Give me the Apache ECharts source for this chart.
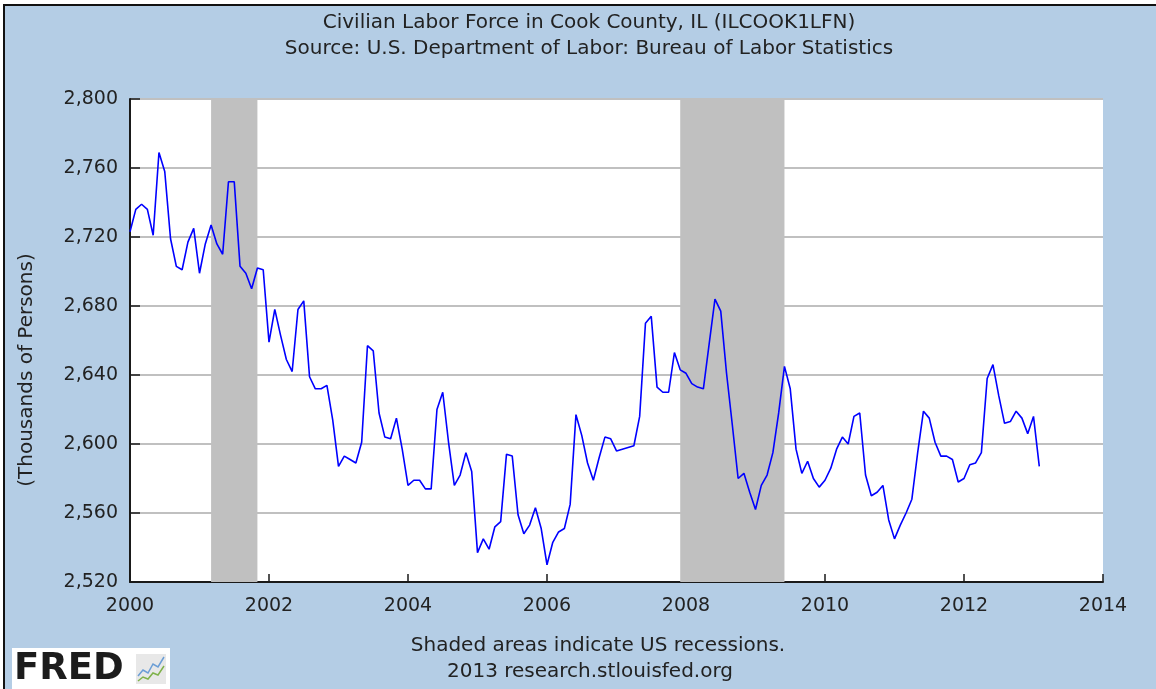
<!DOCTYPE html>
<html>
<head>
<meta charset="utf-8">
<script src="https://cdn.jsdelivr.net/npm/echarts@6/dist/echarts.min.js"></script>
<style>
html,body{margin:0;padding:0;background:#ffffff;}
#chart{width:1156px;height:689px;}
</style>
</head>
<body>
<div id="chart"></div>
<script>
// Monthly values, Jan 2000 .. Feb 2013 (thousands of persons)
var startYear = 2000;
var laborForce = [
  2723, 2736, 2739, 2736, 2721, 2769, 2758, 2719, 2703, 2701, 2717, 2725,
  2699, 2716, 2727, 2716, 2710, 2752, 2752, 2703, 2699, 2690, 2702, 2701,
  2659, 2678, 2663, 2649, 2642, 2678, 2683, 2639, 2632, 2632, 2634, 2614,
  2587, 2593, 2591, 2589, 2601, 2657, 2654, 2618, 2604, 2603, 2615, 2597,
  2576, 2579, 2579, 2574, 2574, 2620, 2630, 2601, 2576, 2582, 2595, 2584,
  2537, 2545, 2539, 2552, 2555, 2594, 2593, 2559, 2548, 2553, 2563, 2551,
  2530, 2543, 2549, 2551, 2565, 2617, 2605, 2589, 2579, 2592, 2604, 2603,
  2596, 2597, 2598, 2599, 2616, 2670, 2674, 2633, 2630, 2630, 2653, 2643,
  2641, 2635, 2633, 2632, 2658, 2684, 2677, 2641, 2611, 2580, 2583, 2572,
  2562, 2576, 2582, 2595, 2618, 2645, 2632, 2597, 2583, 2590, 2580, 2575,
  2579, 2586, 2597, 2604, 2600, 2616, 2618, 2582, 2570, 2572, 2576, 2556,
  2545, 2553, 2560, 2568, 2595, 2619, 2615, 2601, 2593, 2593, 2591, 2578,
  2580, 2588, 2589, 2595, 2638, 2646, 2628, 2612, 2613, 2619, 2615, 2606,
  2616, 2587
];
// Recessions [start, end] as decimal years
var recessions = [
  [2001 + 2/12, 2001 + 10/12],
  [2007 + 11/12, 2009 + 5/12]
];
var xTicks = [2000, 2002, 2004, 2006, 2008, 2010, 2012, 2014];
var yTicks = [2520, 2560, 2600, 2640, 2680, 2720, 2760, 2800];

var titleText = 'Civilian Labor Force in Cook County, IL (ILCOOK1LFN)';
var subtitleText = 'Source: U.S. Department of Labor: Bureau of Labor Statistics';
var yAxisName = '(Thousands of Persons)';
var footer1 = 'Shaded areas indicate US recessions.';
var footer2 = '2013 research.stlouisfed.org';

var seriesData = laborForce.map(function (v, i) { return [startYear + i / 12, v]; });

var FONT = 'DejaVu Sans';
var TXT = '#222222';

var chart = echarts.init(document.getElementById('chart'), null, {renderer: 'canvas'});
chart.setOption({
  backgroundColor: '#b4cde5',
  animation: false,
  grid: {left: 130, top: 99, width: 973, height: 483, containLabel: false,
         show: true, backgroundColor: '#ffffff', borderWidth: 0},
  xAxis: {
    type: 'value',
    min: xTicks[0], max: xTicks[xTicks.length - 1], interval: 2,
    axisLine: {show: true, onZero: false, lineStyle: {color: '#1a1a1a', width: 2}},
    axisTick: {show: true, inside: true, length: 8, lineStyle: {color: '#1a1a1a', width: 1.5}},
    axisLabel: {color: TXT, fontFamily: FONT, fontSize: 19, margin: 15,
      formatter: function (v) { return String(v); }},
    splitLine: {show: false}
  },
  yAxis: {
    type: 'value',
    min: yTicks[0], max: yTicks[yTicks.length - 1], interval: 40,
    axisLine: {show: true, lineStyle: {color: '#1a1a1a', width: 2}},
    axisTick: {show: true, inside: true, length: 10, lineStyle: {color: '#1a1a1a', width: 1.5}},
    axisLabel: {color: TXT, fontFamily: FONT, fontSize: 19, margin: 12,
      formatter: function (v) { return v.toLocaleString('en-US'); }},
    splitLine: {show: true, lineStyle: {color: '#c0c0c0', width: 2}}
  },
  series: [{
    type: 'line',
    data: seriesData,
    showSymbol: false,
    symbol: 'none',
    lineStyle: {color: '#0000ff', width: 1.6},
    itemStyle: {color: '#0000ff'},
    z: 5,
    markArea: {
      silent: true,
      itemStyle: {color: '#c0c0c0', opacity: 1},
      data: recessions.map(function (r) { return [{xAxis: r[0]}, {xAxis: r[1]}]; })
    }
  }],
  graphic: [
    {type: 'rect', shape: {x: 0, y: 0, width: 1156, height: 5}, style: {fill: '#ffffff'}, z: 1},
    {type: 'rect', shape: {x: 0, y: 0, width: 3, height: 689}, style: {fill: '#ffffff'}, z: 1},
    {type: 'rect', shape: {x: 3, y: 4, width: 1153, height: 2}, style: {fill: '#111111'}, z: 2},
    {type: 'rect', shape: {x: 3, y: 4, width: 2, height: 685}, style: {fill: '#111111'}, z: 2},
    {type: 'text', x: 589, y: 23, style: {text: titleText, fontFamily: FONT, fontSize: 20, fill: TXT, align: 'center', verticalAlign: 'middle'}, z: 3},
    {type: 'text', x: 589, y: 49, style: {text: subtitleText, fontFamily: FONT, fontSize: 20, fill: TXT, align: 'center', verticalAlign: 'middle'}, z: 3},
    {type: 'text', x: 27, y: 370, rotation: Math.PI / 2, style: {text: yAxisName, fontFamily: FONT, fontSize: 20, fill: TXT, align: 'center', verticalAlign: 'middle'}, z: 3},
    {type: 'text', x: 598, y: 646, style: {text: footer1, fontFamily: FONT, fontSize: 20, fill: TXT, align: 'center', verticalAlign: 'middle'}, z: 3},
    {type: 'text', x: 590, y: 672, style: {text: footer2, fontFamily: FONT, fontSize: 20, fill: TXT, align: 'center', verticalAlign: 'middle'}, z: 3},
    {type: 'rect', shape: {x: 12, y: 648, width: 158, height: 41}, style: {fill: '#ffffff'}, z: 3},
    {type: 'text', x: 14, y: 669, style: {text: 'FRED', fontFamily: FONT, fontWeight: 'bold', fontSize: 37, fill: '#1c1c1c', align: 'left', verticalAlign: 'middle'}, z: 4},
    {type: 'rect', shape: {x: 136, y: 654, width: 30, height: 30}, style: {fill: '#e8e8e8'}, z: 4},
    {type: 'polyline', shape: {points: [[138,676],[143,670],[148,673],[153,664],[158,667],[164,657]]}, style: {stroke: '#6b9ed6', lineWidth: 1.5, fill: null}, z: 5},
    {type: 'polyline', shape: {points: [[138,681],[143,677],[148,679],[153,673],[158,675],[164,666]]}, style: {stroke: '#7fb24a', lineWidth: 1.5, fill: null}, z: 5}
  ]
});
</script>
</body>
</html>
